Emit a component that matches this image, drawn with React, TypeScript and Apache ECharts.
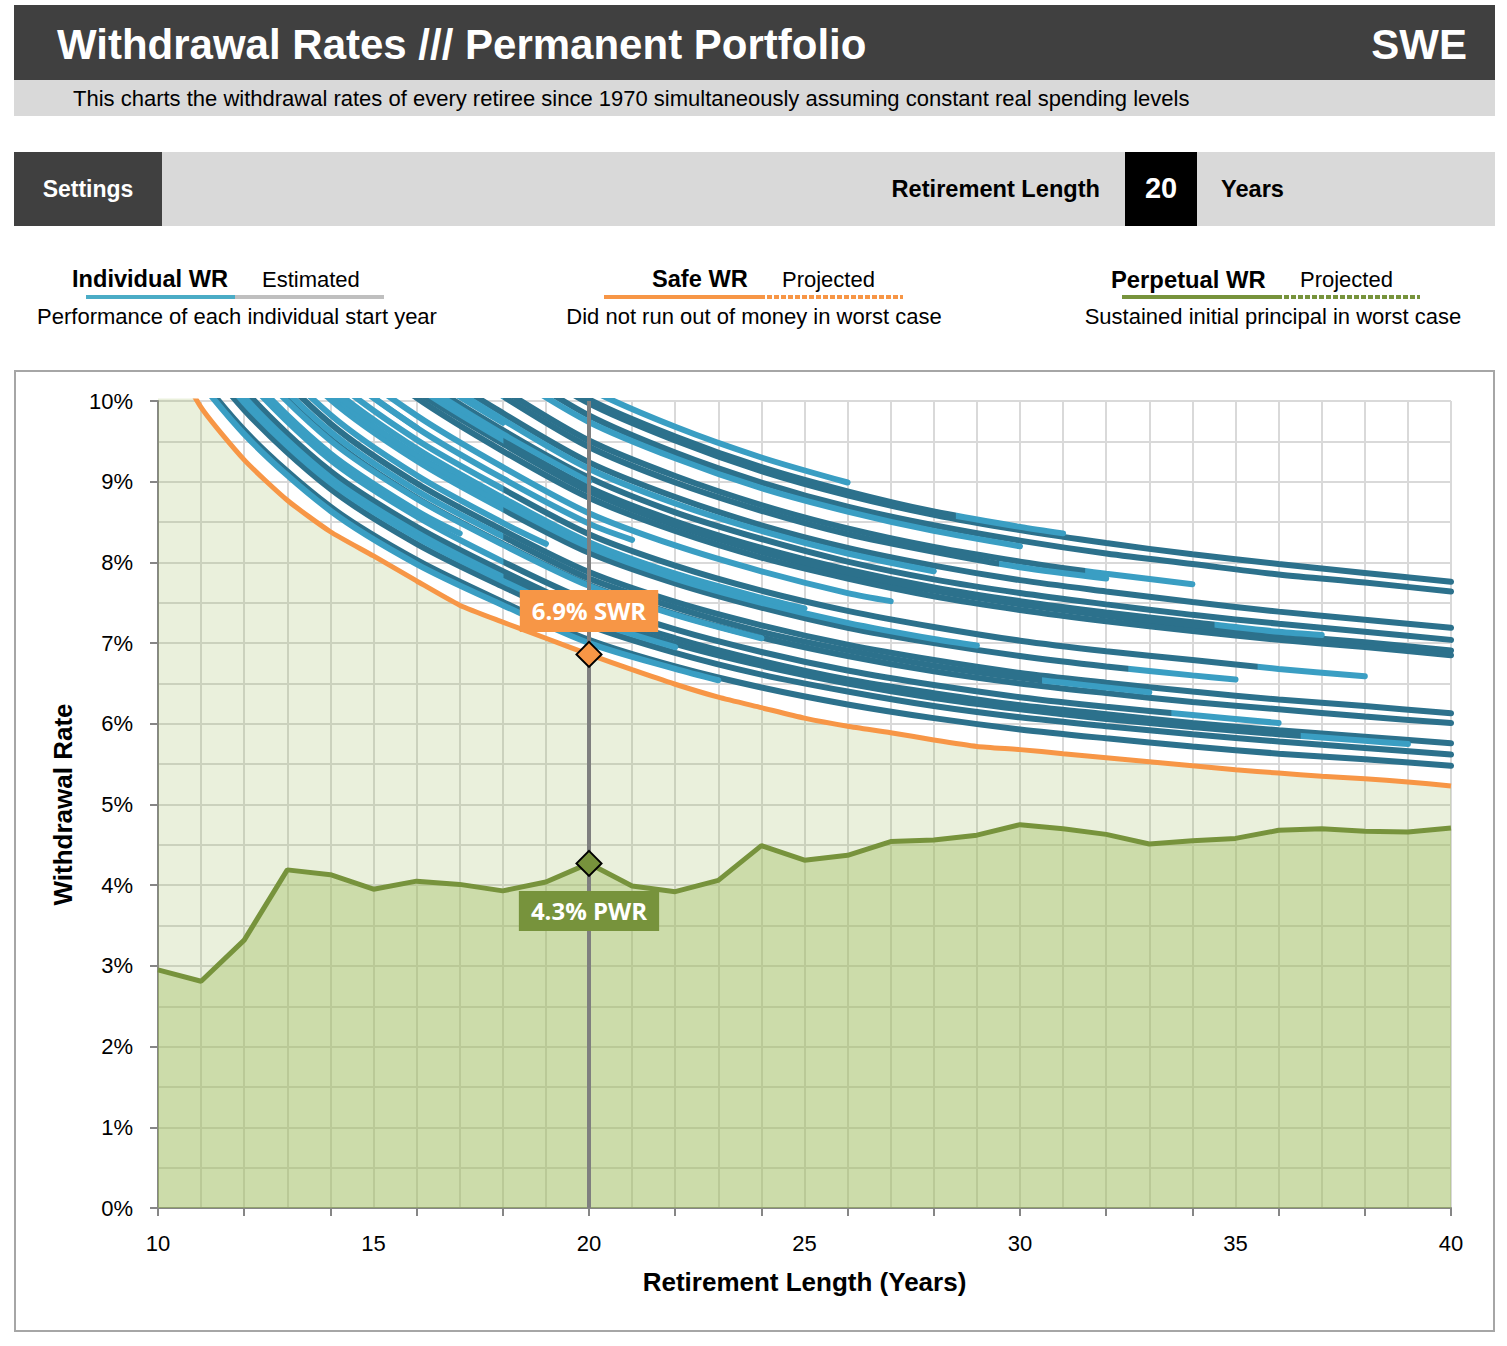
import React, { useEffect, useRef } from "react";
import * as echarts from "echarts";

const FONT = "'Liberation Sans', Arial, sans-serif";
const BOX_FONT = "'Open Sans', 'Liberation Sans', sans-serif";

// ---------- data ----------
const retirementLengths = [10, 11, 12, 13, 14, 15, 16, 17, 18, 19, 20, 21, 22, 23, 24, 25, 26, 27, 28, 29, 30, 31, 32, 33, 34, 35, 36, 37, 38, 39, 40];
const safeWR = [10.9, 9.92, 9.27, 8.77, 8.38, 8.08, 7.77, 7.47, 7.26, 7.06, 6.86, 6.67, 6.49, 6.33, 6.2, 6.07, 5.97, 5.89, 5.8, 5.72, 5.68, 5.63, 5.58, 5.53, 5.48, 5.43, 5.39, 5.35, 5.32, 5.28, 5.23];
const perpetualWR = [2.95, 2.81, 3.32, 4.19, 4.13, 3.95, 4.05, 4.01, 3.93, 4.04, 4.27, 3.99, 3.92, 4.06, 4.49, 4.31, 4.37, 4.54, 4.56, 4.62, 4.75, 4.7, 4.63, 4.51, 4.55, 4.58, 4.68, 4.7, 4.67, 4.66, 4.71];
const selectedLength = 20;

// Individual start-year withdrawal rates, read every 2 years from length 10;
// the last value of each list is the rate at that start year's final length.
const startYears = [1970, 1971, 1972, 1973, 1974, 1975, 1976, 1977, 1978, 1979, 1980, 1981, 1982, 1983, 1984, 1985, 1986, 1987, 1988, 1989, 1990, 1991, 1992, 1993, 1994, 1995, 1996, 1997, 1998, 1999, 2000, 2001, 2002, 2003, 2004, 2005];
const endLength = [40, 40, 40, 40, 40, 40, 40, 40, 40, 40, 40, 39, 38, 37, 36, 35, 34, 33, 32, 31, 30, 29, 28, 27, 26, 25, 24, 23, 22, 21, 20, 19, 18, 17, 16, 15];
const wr1970 = [15.52, 13.66, 12.3, 11.37, 10.63, 9.97, 9.51, 9.13, 8.83, 8.59, 8.4, 8.24, 8.1, 7.98, 7.87, 7.76];
const wr1971 = [15.28, 13.45, 12.11, 11.19, 10.47, 9.82, 9.36, 8.99, 8.69, 8.46, 8.27, 8.11, 7.98, 7.85, 7.75, 7.64];
const wr1972 = [14.38, 12.65, 11.4, 10.53, 9.85, 9.24, 8.81, 8.46, 8.18, 7.96, 7.78, 7.64, 7.51, 7.39, 7.29, 7.19];
const wr1973 = [14.08, 12.39, 11.16, 10.31, 9.64, 9.05, 8.62, 8.29, 8.01, 7.79, 7.62, 7.48, 7.35, 7.24, 7.14, 7.04];
const wr1974 = [13.82, 12.16, 10.95, 10.12, 9.47, 8.88, 8.46, 8.13, 7.86, 7.65, 7.48, 7.34, 7.21, 7.1, 7.01, 6.91];
const wr1975 = [13.7, 12.06, 10.86, 10.04, 9.38, 8.8, 8.39, 8.06, 7.8, 7.58, 7.41, 7.27, 7.15, 7.04, 6.95, 6.85];
const wr1976 = [12.26, 10.79, 9.72, 8.98, 8.4, 7.88, 7.51, 7.22, 6.98, 6.79, 6.63, 6.51, 6.4, 6.3, 6.22, 6.13];
const wr1977 = [12.02, 10.58, 9.53, 8.8, 8.23, 7.72, 7.36, 7.07, 6.84, 6.65, 6.5, 6.38, 6.27, 6.18, 6.09, 6.01];
const wr1978 = [11.52, 10.14, 9.13, 8.44, 7.89, 7.4, 7.06, 6.78, 6.55, 6.38, 6.23, 6.12, 6.01, 5.92, 5.84, 5.76];
const wr1979 = [11.24, 9.89, 8.91, 8.23, 7.7, 7.22, 6.88, 6.61, 6.4, 6.22, 6.08, 5.97, 5.87, 5.78, 5.7, 5.62];
const wr1980 = [10.96, 9.64, 8.69, 8.03, 7.51, 7.04, 6.71, 6.45, 6.24, 6.07, 5.93, 5.82, 5.72, 5.63, 5.56, 5.48];
const wr1981 = [11.42, 10.05, 9.05, 8.37, 7.82, 7.34, 6.99, 6.72, 6.5, 6.32, 6.18, 6.06, 5.96, 5.87, 5.79, 5.75];
const wr1982 = [13.0, 11.44, 10.3, 9.52, 8.91, 8.35, 7.96, 7.65, 7.4, 7.2, 7.03, 6.9, 6.79, 6.68, 6.59];
const wr1983 = [13.9, 12.23, 11.02, 10.18, 9.52, 8.93, 8.51, 8.18, 7.91, 7.69, 7.52, 7.38, 7.26, 7.14, 7.1];
const wr1984 = [11.7, 10.3, 9.27, 8.57, 8.01, 7.52, 7.17, 6.89, 6.66, 6.48, 6.33, 6.21, 6.11, 6.01];
const wr1985 = [12.64, 11.12, 10.02, 9.26, 8.66, 8.12, 7.74, 7.44, 7.19, 7.0, 6.84, 6.71, 6.6, 6.55];
const wr1986 = [14.8, 13.02, 11.73, 10.84, 10.14, 9.51, 9.07, 8.71, 8.42, 8.19, 8.01, 7.86, 7.73];
const wr1987 = [12.14, 10.68, 9.62, 8.89, 8.32, 7.8, 7.44, 7.14, 6.91, 6.72, 6.57, 6.45, 6.39];
const wr1988 = [14.68, 12.92, 11.63, 10.75, 10.06, 9.43, 8.99, 8.64, 8.35, 8.13, 7.94, 7.8];
const wr1989 = [15.6, 13.73, 12.36, 11.43, 10.69, 10.02, 9.56, 9.18, 8.88, 8.63, 8.44, 8.36];
const wr1990 = [15.16, 13.34, 12.01, 11.1, 10.38, 9.74, 9.29, 8.92, 8.63, 8.39, 8.2];
const wr1991 = [12.74, 11.21, 10.1, 9.33, 8.73, 8.19, 7.8, 7.5, 7.25, 7.05, 6.97];
const wr1992 = [14.26, 12.55, 11.3, 10.45, 9.77, 9.16, 8.73, 8.39, 8.11, 7.89];
const wr1993 = [13.4, 11.79, 10.62, 9.82, 9.18, 8.61, 8.21, 7.89, 7.62, 7.52];
const wr1994 = [15.8, 13.9, 12.52, 11.57, 10.82, 10.15, 9.68, 9.3, 8.99];
const wr1995 = [12.84, 11.3, 10.18, 9.41, 8.8, 8.25, 7.86, 7.56, 7.43];
const wr1996 = [12.0, 10.56, 9.51, 8.79, 8.22, 7.71, 7.35, 7.06];
const wr1997 = [10.9, 9.59, 8.64, 7.98, 7.47, 7.0, 6.68, 6.54];
const wr1998 = [11.34, 9.98, 8.99, 8.31, 7.77, 7.29, 6.95];
const wr1999 = [13.2, 11.62, 10.46, 9.67, 9.04, 8.48, 8.28];
const wr2000 = [14.0, 12.32, 11.1, 10.26, 9.59, 9.0];
const wr2001 = [12.4, 10.91, 9.83, 9.08, 8.49, 8.23];
const wr2002 = [14.2, 12.5, 11.25, 10.4, 9.73];
const wr2003 = [11.8, 10.38, 9.35, 8.64, 8.36];
const wr2004 = [13.2, 11.62, 10.46, 9.67];
const wr2005 = [12.8, 11.26, 10.14, 9.76];

const individualWR = [
  wr1970, wr1971, wr1972, wr1973, wr1974, wr1975, wr1976, wr1977, wr1978, wr1979, wr1980,
  wr1981, wr1982, wr1983, wr1984, wr1985, wr1986, wr1987, wr1988, wr1989, wr1990,
  wr1991, wr1992, wr1993, wr1994, wr1995, wr1996, wr1997, wr1998, wr1999, wr2000,
  wr2001, wr2002, wr2003, wr2004, wr2005,
];

// ---------- styles ----------
const DARK = "#2c718c";
const LIGHT = "#3a9ec3";
const ORANGE = "#f79646";
const GREEN = "#77933c";
const GRID_LINE = "#d9d9d9";
const AXIS_GRAY = "#868686";

function lineColor(E: number): any {
  if (E >= 40) return DARK;
  if (E <= 30) return LIGHT;
  const a = (18 - 10) / (E - 10);
  const b = (E - 12.5) / (E - 10);
  return new echarts.graphic.LinearGradient(0, 0, 1, 0, [
    { offset: 0, color: LIGHT },
    { offset: a, color: LIGHT },
    { offset: a + 0.001, color: DARK },
    { offset: b, color: DARK },
    { offset: b + 0.001, color: LIGHT },
    { offset: 1, color: LIGHT },
  ]);
}

function buildOption() {
  const individualSeries = startYears.map((yr, i) => {
    const vals = individualWR[i];
    const E = endLength[i];
    const pts = vals.map((v, k) => [k === vals.length - 1 ? E : 10 + 2 * k, v]);
    return {
      name: "WR " + yr,
      type: "line",
      data: pts,
      smooth: 0.3,
      symbol: "none",
      clip: true,
      silent: true,
      z: 4,
      lineStyle: { color: lineColor(E), width: 6, cap: "round" },
    };
  });

  const swrPairs = retirementLengths.map((l, i) => [l, safeWR[i]]);
  const pwrPairs = retirementLengths.map((l, i) => [l, perpetualWR[i]]);
  const selIdx = retirementLengths.indexOf(selectedLength);
  const selSWR = safeWR[selIdx];
  const selPWR = perpetualWR[selIdx];

  const txt = (x: number, y: number, text: string, size: number, opts: any = {}) => ({
    type: "text",
    x,
    y,
    style: {
      text,
      fill: opts.fill || "#000",
      fontSize: size,
      fontWeight: opts.bold ? "bold" : "normal",
      fontFamily: FONT,
      align: opts.align || "left",
      verticalAlign: "middle",
    },
  });

  const graphic: any[] = [
    // header
    { type: "rect", shape: { x: 14, y: 5, width: 1481, height: 75 }, style: { fill: "#404040" } },
    txt(57, 44, "Withdrawal Rates /// Permanent Portfolio", 42, { bold: true, fill: "#fff" }),
    txt(1467, 44, "SWE", 42, { bold: true, fill: "#fff", align: "right" }),
    { type: "rect", shape: { x: 14, y: 80, width: 1481, height: 36 }, style: { fill: "#d9d9d9" } },
    txt(73, 98, "This charts the withdrawal rates of every retiree since 1970 simultaneously assuming constant real spending levels", 22),
    // settings
    { type: "rect", shape: { x: 14, y: 152, width: 1481, height: 74 }, style: { fill: "#d9d9d9" } },
    { type: "rect", shape: { x: 14, y: 152, width: 148, height: 74 }, style: { fill: "#404040" } },
    txt(88, 189, "Settings", 23, { bold: true, fill: "#fff", align: "center" }),
    txt(1100, 189, "Retirement Length", 23.6, { bold: true, align: "right" }),
    { type: "rect", shape: { x: 1125, y: 152, width: 72, height: 74 }, style: { fill: "#000" } },
    txt(1161, 188, String(selectedLength), 29, { bold: true, fill: "#fff", align: "center" }),
    txt(1221, 189, "Years", 23.6, { bold: true }),
    // legend group 1
    txt(72, 279, "Individual WR", 23.6, { bold: true }),
    txt(262, 279, "Estimated", 22),
    { type: "line", shape: { x1: 86, y1: 297, x2: 235, y2: 297 }, style: { stroke: "#4bacc6", lineWidth: 4 } },
    { type: "line", shape: { x1: 235, y1: 297, x2: 384, y2: 297 }, style: { stroke: "#bfbfbf", lineWidth: 4 } },
    txt(237, 316, "Performance of each individual start year", 22, { align: "center" }),
    // legend group 2
    txt(652, 279, "Safe WR", 23.6, { bold: true }),
    txt(782, 279, "Projected", 22),
    { type: "line", shape: { x1: 604, y1: 297, x2: 760, y2: 297 }, style: { stroke: ORANGE, lineWidth: 4 } },
    { type: "line", shape: { x1: 760, y1: 297, x2: 903, y2: 297 }, style: { stroke: ORANGE, lineWidth: 4, lineDash: [5, 2] } },
    txt(754, 316, "Did not run out of money in worst case", 22, { align: "center" }),
    // legend group 3
    txt(1111, 279, "Perpetual WR", 23.8, { bold: true }),
    txt(1300, 279, "Projected", 22),
    { type: "line", shape: { x1: 1122, y1: 297, x2: 1277, y2: 297 }, style: { stroke: GREEN, lineWidth: 4 } },
    { type: "line", shape: { x1: 1277, y1: 297, x2: 1420, y2: 297 }, style: { stroke: GREEN, lineWidth: 4, lineDash: [5, 2] } },
    txt(1273, 316, "Sustained initial principal in worst case", 22, { align: "center" }),
    // chart frame
    { type: "rect", shape: { x: 15, y: 371, width: 1479, height: 960 }, style: { fill: "none", stroke: "#a6a6a6", lineWidth: 2 } },
  ];

  const boxLabel = (text: string, bg: string, position: string, distance: number, padV: number) => ({
    show: true,
    position,
    distance,
    formatter: text,
    backgroundColor: bg,
    color: "#fff",
    opacity: 1,
    fontFamily: BOX_FONT,
    fontWeight: "bold",
    fontSize: 24,
    lineHeight: 26,
    padding: [padV, 12, padV, 12],
  });

  return {
    animation: false,
    backgroundColor: "#ffffff",
    grid: { left: 158, top: 401, width: 1293, height: 807, containLabel: false },
    graphic,
    xAxis: [
      {
        type: "value",
        min: 10,
        max: 40,
        interval: 1,
        position: "bottom",
        axisLine: { show: true, onZero: false, lineStyle: { color: AXIS_GRAY, width: 2 } },
        axisTick: { show: false },
        splitLine: { show: true, lineStyle: { color: GRID_LINE, width: 2 } },
        axisLabel: {
          formatter: (v: number) => (v % 5 === 0 ? String(v) : ""),
          fontSize: 22,
          color: "#000",
          fontFamily: FONT,
          margin: 24,
        },
        name: "Retirement Length (Years)",
        nameLocation: "middle",
        nameGap: 61,
        nameTextStyle: { fontSize: 26, fontWeight: "bold", color: "#000", fontFamily: FONT, verticalAlign: "top" },
      },
      {
        type: "value",
        min: 10,
        max: 40,
        interval: 2,
        position: "bottom",
        axisLine: { show: false },
        axisTick: { show: true, length: 8, lineStyle: { color: AXIS_GRAY, width: 2 } },
        axisLabel: { show: false },
        splitLine: { show: false },
      },
    ],
    yAxis: [
      {
        type: "value",
        min: 0,
        max: 10,
        interval: 0.5,
        position: "left",
        axisLine: { show: true, onZero: false, lineStyle: { color: AXIS_GRAY, width: 2 } },
        axisTick: { show: false },
        splitLine: { show: true, lineStyle: { color: GRID_LINE, width: 2 } },
        axisLabel: {
          formatter: (v: number) => (Number.isInteger(v) ? v + "%" : ""),
          fontSize: 22,
          color: "#000",
          fontFamily: FONT,
          margin: 25,
        },
        name: "Withdrawal Rate",
        nameLocation: "middle",
        nameGap: 82,
        nameTextStyle: { fontSize: 26, fontWeight: "bold", color: "#000", fontFamily: FONT },
      },
      {
        type: "value",
        min: 0,
        max: 10,
        interval: 1,
        position: "left",
        axisLine: { show: false },
        axisTick: { show: true, length: 8, lineStyle: { color: AXIS_GRAY, width: 2 } },
        axisLabel: { show: false },
        splitLine: { show: false },
      },
    ],
    series: [
      {
        name: "Safe WR",
        type: "line",
        data: swrPairs,
        smooth: 0.2,
        symbol: "none",
        silent: true,
        z: 2,
        lineStyle: { color: ORANGE, width: 5 },
        areaStyle: { color: "rgba(150,180,80,0.2)", origin: "start", opacity: 1 },
      },
      {
        name: "Perpetual WR",
        type: "line",
        data: pwrPairs,
        symbol: "none",
        silent: true,
        z: 3,
        lineStyle: { color: GREEN, width: 5 },
        areaStyle: { color: "rgba(160,190,95,0.4)", origin: "start", opacity: 1 },
      },
      ...individualSeries,
      {
        name: "Selected length",
        type: "line",
        data: [
          [selectedLength, 0],
          [selectedLength, 10],
        ],
        symbol: "none",
        silent: true,
        z: 5,
        lineStyle: { color: "#7f7f7f", width: 4 },
      },
      {
        name: "SWR point",
        type: "scatter",
        data: [[selectedLength, selSWR]],
        symbol: "diamond",
        symbolSize: [25, 25],
        silent: true,
        z: 6,
        itemStyle: { color: ORANGE, borderColor: "#000", borderWidth: 2, opacity: 1 },
        label: boxLabel(selSWR.toFixed(1) + "% SWR", ORANGE, "top", 9, 8),
      },
      {
        name: "PWR point",
        type: "scatter",
        data: [[selectedLength, selPWR]],
        symbol: "diamond",
        symbolSize: [25, 25],
        silent: true,
        z: 6,
        itemStyle: { color: GREEN, borderColor: "#000", borderWidth: 2, opacity: 1 },
        label: boxLabel(selPWR.toFixed(1) + "% PWR", GREEN, "bottom", 14, 7),
      },
    ],
  };
}

export default function App() {
  const ref = useRef<HTMLDivElement>(null);
  useEffect(() => {
    if (!ref.current) return;
    const chart = echarts.init(ref.current, null, { renderer: "svg" });
    chart.setOption(buildOption() as any);
    return () => {
      chart.dispose();
    };
  }, []);
  return (
    <div
      ref={ref}
      style={{ position: "absolute", left: 0, top: 0, width: 1507, height: 1346, background: "#fff" }}
    />
  );
}
